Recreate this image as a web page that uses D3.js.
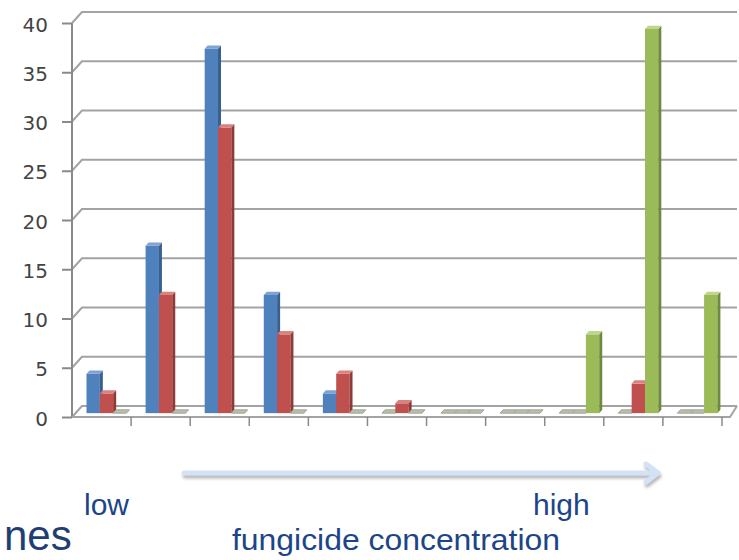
<!DOCTYPE html>
<html><head><meta charset="utf-8">
<script src="https://cdn.jsdelivr.net/npm/d3@7"></script>
<style>html,body{margin:0;padding:0;background:#fff;}svg{display:block;}</style>
</head><body>
<script>
const categories = ["1","2","3","4","5","6","7","8","9","10","11"];
const seriesNames = ["blue","red","green"];
const blueValues  = [4, 17, 37, 12, 2, 0, 0, 0, 0, 0, 0];
const redValues   = [2, 12, 29, 8, 4, 1, 0, 0, 0, 3, 0];
const greenValues = [0, 0, 0, 0, 0, 0, 0, 0, 8, 39, 12];
const yTicks = [0, 5, 10, 15, 20, 25, 30, 35, 40];
const colors = {blue:["#4f81bd","#38608f","#7ea3d4"], red:["#c0504d","#8e3a38","#d98280"], green:["#9bbb59","#6f8a3b","#bdd68b"]};

const W = 739, H = 560;
const svg = d3.select("body").append("svg").attr("width", W).attr("height", H);

const x = d3.scaleBand().domain(categories).range([72, 722]).paddingInner(0).paddingOuter(0);
const xs = d3.scaleBand().domain(seriesNames).range([11, 51]);
const y = d3.scaleLinear().domain([0, 40]).range([417, 23]);
const DX = 10, DY = -11;

const g = svg.append("g");
yTicks.forEach(v => {
  g.append("path")
    .attr("d", `M72,${y(v)} L${72+DX},${y(v)+DY} L737,${y(v)+DY}`)
    .attr("fill","none").attr("stroke","#a3a3a3").attr("stroke-width",2);
});
g.append("line").attr("x1",72).attr("x2",72).attr("y1",y(40)).attr("y2",y(0)).attr("stroke","#8a8a8a").attr("stroke-width",2);
const yAxis = d3.axisLeft(y).tickValues(yTicks).tickSize(10).tickPadding(14);
const ya = svg.append("g").attr("transform","translate(72,0)").call(yAxis);
ya.select(".domain").remove();
ya.selectAll(".tick line").attr("stroke","#8a8a8a").attr("stroke-width",2);
ya.selectAll(".tick text").attr("font-family","DejaVu Sans").attr("font-size",20).attr("fill","#444").attr("dy","0.4em");

g.append("path").attr("d",`M72,${y(0)} L730,${y(0)} L737,${y(0)+DY}`).attr("fill","none").attr("stroke","#a3a3a3").attr("stroke-width",2);
const xa = svg.append("g").attr("transform",`translate(0,${y(0)})`)
  .call(d3.axisBottom(x).tickSize(0).tickFormat(""));
xa.select(".domain").remove();
categories.forEach((c,i)=>{
  if(i>0) svg.append("line").attr("x1",x(c)).attr("x2",x(c)).attr("y1",y(0)).attr("y2",y(0)+9).attr("stroke","#8a8a8a").attr("stroke-width",1.5);
});
svg.append("line").attr("x1",x.range()[1]).attr("x2",x.range()[1]).attr("y1",y(0)).attr("y2",y(0)+9).attr("stroke","#8a8a8a").attr("stroke-width",1.5);

const data = [];
categories.forEach((c,i)=>{
  data.push({c, s:"blue", v:blueValues[i]});
  data.push({c, s:"red", v:redValues[i]});
  data.push({c, s:"green", v:greenValues[i]});
});
const f0 = 0.35, f1 = 0.65;
const bw = xs.bandwidth();
const barsG = svg.append("g");
data.forEach(d=>{
  const x0 = x(d.c) + xs(d.s) + DX*f0;
  const yb = y(0) + DY*f0;
  const yt = y(d.v) + DY*f0;
  const ddx = DX*(f1-f0), ddy = DY*(f1-f0);
  const col = colors[d.s];
  const bg = barsG.append("g");
  if (d.v > 0) {
    bg.append("rect").attr("x",x0).attr("y",yt).attr("width",bw).attr("height",yb-yt).attr("fill",col[0]);
    bg.append("path").attr("d",`M${x0+bw},${yt} L${x0+bw+ddx},${yt+ddy} L${x0+bw+ddx},${yb+ddy} L${x0+bw},${yb}Z`).attr("fill",col[1]);
    bg.append("path").attr("d",`M${x0},${yt} L${x0+ddx},${yt+ddy} L${x0+bw+ddx},${yt+ddy} L${x0+bw},${yt}Z`).attr("fill",col[2]);
  } else {
    bg.append("path").attr("d",`M${x0},${yb} L${x0+ddx},${yb+ddy} L${x0+bw+ddx},${yb+ddy} L${x0+bw},${yb}Z`).attr("fill","#b9bfae").attr("stroke","#a0a696").attr("stroke-width",1);
  }
});

const defs = svg.append("defs");
const flt = defs.append("filter").attr("id","sh").attr("x","-10%").attr("y","-50%").attr("width","120%").attr("height","200%");
flt.append("feDropShadow").attr("dx",1).attr("dy",3).attr("stdDeviation",1.5).attr("flood-color","#888").attr("flood-opacity",0.6);
svg.append("path").attr("d","M184,473 L656,473 M646,464 L658,473 L646,482")
  .attr("fill","none").attr("stroke","#d3e2f4").attr("stroke-width",5).attr("stroke-linecap","round").attr("stroke-linejoin","round").attr("filter","url(#sh)");

const tc = "#1c4587";
svg.append("text").attr("x",84).attr("y",515).text("low").attr("font-family","Liberation Sans").attr("font-size",30).attr("fill",tc);
svg.append("text").attr("x",533).attr("y",515).text("high").attr("font-family","Liberation Sans").attr("font-size",30).attr("fill",tc);
svg.append("text").attr("x",232).attr("y",550).text("fungicide concentration").attr("font-family","Liberation Sans").attr("font-size",30).attr("fill",tc)
  .attr("textLength",328).attr("lengthAdjust","spacingAndGlyphs");
svg.append("text").attr("x",4).attr("y",550).text("nes").attr("font-family","Liberation Sans").attr("font-size",42).attr("fill","#1f3f73");
</script>
</body></html>
